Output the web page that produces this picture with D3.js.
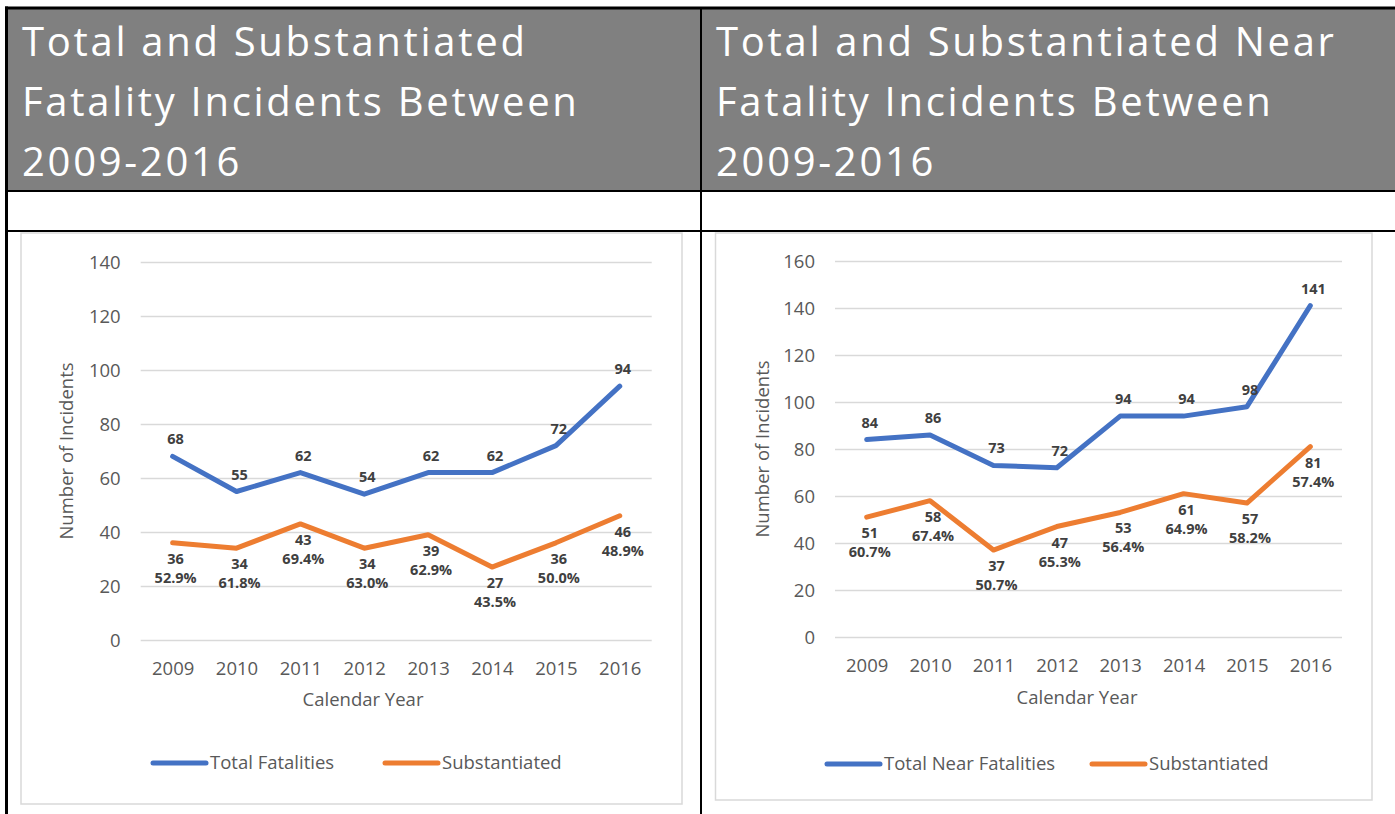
<!DOCTYPE html>
<html>
<head>
<meta charset="utf-8">
<script src="https://cdn.jsdelivr.net/npm/d3@7"></script>
<style>
  html, body { margin: 0; padding: 0; background: #fff; }
  svg { display: block; }
  text { font-family: "Open Sans", "Liberation Sans", sans-serif; }
</style>
</head>
<body>
<svg id="page" width="1395" height="814"></svg>
<script>
// ---------- data ----------
const years = ["2009", "2010", "2011", "2012", "2013", "2014", "2015", "2016"];

const fatalTotal = [68, 55, 62, 54, 62, 62, 72, 94];
const fatalSubst = [36, 34, 43, 34, 39, 27, 36, 46];
const fatalPct = ["52.9%", "61.8%", "69.4%", "63.0%", "62.9%", "43.5%", "50.0%", "48.9%"];
const fatalTicks = [0, 20, 40, 60, 80, 100, 120, 140];

const nearTotal = [84, 86, 73, 72, 94, 94, 98, 141];
const nearSubst = [51, 58, 37, 47, 53, 61, 57, 81];
const nearPct = ["60.7%", "67.4%", "50.7%", "65.3%", "56.4%", "64.9%", "58.2%", "57.4%"];
const nearTicks = [0, 20, 40, 60, 80, 100, 120, 140, 160];

const leftTitle = ["Total and Substantiated", "Fatality Incidents Between", "2009-2016"];
const rightTitle = ["Total and Substantiated Near", "Fatality Incidents Between", "2009-2016"];
const leftLegend = ["Total Fatalities", "Substantiated"];
const rightLegend = ["Total Near Fatalities", "Substantiated"];
const xTitle = "Calendar Year";
const yTitle = "Number of Incidents";

// ---------- styles ----------
const BLUE = "#4472C4", ORANGE = "#ED7D31", AXIS = "#595959", LABEL = "#404040", GRID = "#d9d9d9";

const svg = d3.select("#page");

// ---------- table frame ----------
svg.append("rect").attr("x", 8).attr("y", 9).attr("width", 1387).attr("height", 181).attr("fill", "#808080");
const black = "#000";
svg.append("rect").attr("x", 5).attr("y", 6.5).attr("width", 1390).attr("height", 3).attr("fill", black);
svg.append("rect").attr("x", 5).attr("y", 6.5).attr("width", 3).attr("height", 808).attr("fill", black);
svg.append("rect").attr("x", 700).attr("y", 9).attr("width", 2).attr("height", 805).attr("fill", black);
svg.append("rect").attr("x", 8).attr("y", 190).attr("width", 1387).attr("height", 2).attr("fill", black);
svg.append("rect").attr("x", 8).attr("y", 230).attr("width", 1387).attr("height", 2).attr("fill", black);

function drawTitle(lines, x) {
  const t = svg.append("text").attr("fill", "#fff").attr("font-size", 40).attr("letter-spacing", 2.7);
  lines.forEach((s, i) => {
    t.append("tspan").attr("x", x).attr("y", 56 + i * 60).text(s);
  });
}
drawTitle(leftTitle, 22);
drawTitle(rightTitle, 716);

// ---------- charts ----------
function drawChart(cfg) {
  const g = svg.append("g");
  g.append("rect").attr("x", cfg.box[0]).attr("y", cfg.box[1])
    .attr("width", cfg.box[2] - cfg.box[0]).attr("height", cfg.box[3] - cfg.box[1])
    .attr("fill", "#fff").attr("stroke", GRID).attr("stroke-width", 1.5);

  const x = d3.scalePoint().domain(years).range([cfg.plot[0], cfg.plot[2]]).padding(0.5);
  const y = d3.scaleLinear().domain([0, cfg.ticks[cfg.ticks.length - 1]]).range([cfg.plot[3], cfg.plot[1]]);

  // gridlines
  const grid = g.append("g").attr("transform", `translate(${cfg.plot[0]},0)`)
    .call(d3.axisLeft(y).tickValues(cfg.ticks).tickSize(-(cfg.plot[2] - cfg.plot[0])).tickFormat(""));
  grid.select(".domain").remove();
  grid.selectAll("line").attr("stroke", GRID).attr("stroke-width", 1.5);

  // y tick labels
  const ya = g.append("g").attr("transform", `translate(${cfg.plot[0] - 20},0)`)
    .call(d3.axisLeft(y).tickValues(cfg.ticks).tickSize(0).tickPadding(0));
  ya.select(".domain").remove();
  ya.selectAll("text").attr("fill", AXIS).attr("font-size", 18.5)
    .attr("font-family", '"Open Sans", sans-serif').attr("dy", "0.35em");

  // x tick labels
  const xa = g.append("g").attr("transform", `translate(0,${cfg.plot[3]})`)
    .call(d3.axisBottom(x).tickSize(0).tickPadding(0));
  xa.select(".domain").remove();
  xa.selectAll("text").attr("fill", AXIS).attr("font-size", 18.5)
    .attr("font-family", '"Open Sans", sans-serif').attr("dy", null).attr("y", 35);

  // axis titles
  g.append("text").attr("x", cfg.xTitlePos[0]).attr("y", cfg.xTitlePos[1])
    .attr("text-anchor", "middle").attr("fill", AXIS).attr("font-size", 18.5).text(xTitle);
  const ymid = (cfg.plot[1] + cfg.plot[3]) / 2;
  g.append("text").attr("transform", `translate(${cfg.yTitleX},${ymid}) rotate(-90)`)
    .attr("text-anchor", "middle").attr("dy", "0.35em").attr("fill", AXIS).attr("font-size", 18.5).text(yTitle);

  // lines
  const line = d3.line().x((d, i) => x(years[i])).y(d => y(d));
  [[cfg.total, BLUE], [cfg.subst, ORANGE]].forEach(([vals, col]) => {
    g.append("path").datum(vals).attr("d", line).attr("fill", "none")
      .attr("stroke", col).attr("stroke-width", 5).attr("stroke-linejoin", "round").attr("stroke-linecap", "round");
  });

  const rightEdge = cfg.plot[2];
  function clampX(textSel, cx) {
    let w = 0;
    textSel.selectAll("tspan").each(function () { w = Math.max(w, this.getComputedTextLength()); });
    if (cx + w / 2 > rightEdge) cx = rightEdge - w / 2;
    textSel.selectAll("tspan").attr("x", cx);
  }

  // total labels (above)
  cfg.total.forEach((v, i) => {
    const t = g.append("text").attr("text-anchor", "middle").attr("font-size", 14.5).attr("font-weight", 700)
      .attr("fill", LABEL);
    t.append("tspan").attr("y", y(v) - 12).text(v);
    clampX(t, x(years[i]) + 3);
  });
  // substantiated labels (below, two lines)
  cfg.subst.forEach((v, i) => {
    const t = g.append("text").attr("text-anchor", "middle").attr("font-size", 14.5).attr("font-weight", 700)
      .attr("fill", LABEL);
    t.append("tspan").attr("y", y(v) + 21).text(v);
    t.append("tspan").attr("y", y(v) + 40).text(cfg.pct[i]);
    clampX(t, x(years[i]) + 3);
  });

  // legend
  const [lx1, lx2] = cfg.legendX;
  [[lx1, BLUE, cfg.legend[0]], [lx2, ORANGE, cfg.legend[1]]].forEach(([lx, col, label]) => {
    g.append("line").attr("x1", lx).attr("x2", lx + 53).attr("y1", cfg.legendY).attr("y2", cfg.legendY)
      .attr("stroke", col).attr("stroke-width", 5).attr("stroke-linecap", "round");
    g.append("text").attr("x", lx + 57).attr("y", cfg.legendY).attr("dy", "0.35em")
      .attr("fill", AXIS).attr("font-size", 18.5).text(label);
  });
}

drawChart({
  box: [21, 233, 682, 804],
  plot: [140.7, 262, 651.7, 640],
  ticks: fatalTicks,
  total: fatalTotal, subst: fatalSubst, pct: fatalPct,
  xTitlePos: [363, 706],
  yTitleX: 67,
  legend: leftLegend, legendX: [153, 385], legendY: 763
});

drawChart({
  box: [715.5, 233, 1372, 800],
  plot: [835, 261, 1342, 637],
  ticks: nearTicks,
  total: nearTotal, subst: nearSubst, pct: nearPct,
  xTitlePos: [1077, 704],
  yTitleX: 763,
  legend: rightLegend, legendX: [827, 1092], legendY: 764
});
</script>
</body>
</html>
